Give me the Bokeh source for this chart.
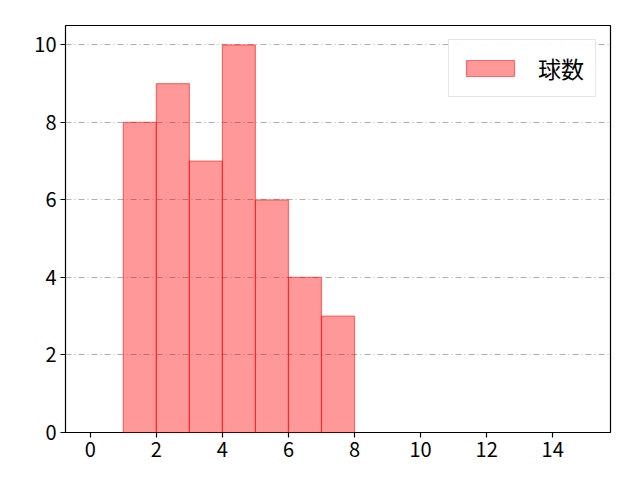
from bokeh.plotting import figure
from bokeh.models import ColumnDataSource, Range1d, FixedTicker, Legend, LegendItem
from bokeh.embed import file_html
from bokeh.resources import INLINE

# histogram bins (left edges) and counts
bin_left = [1, 2, 3, 4, 5, 6, 7]
bin_right = [2, 3, 4, 5, 6, 7, 8]
counts = [8, 9, 7, 10, 6, 4, 3]
x_ticks = [0, 2, 4, 6, 8, 10, 12, 14]
y_ticks = [0, 2, 4, 6, 8, 10]
label = "球数"

FONT = "Noto Sans CJK JP"

source = ColumnDataSource(dict(left=bin_left, right=bin_right,
                               top=counts, bottom=[0] * len(counts)))

p = figure(width=628, height=472, output_backend="svg", toolbar_location=None,
           x_range=Range1d(-0.75, 15.75), y_range=Range1d(0, 10.5),
           min_border_left=65, min_border_right=18, min_border_top=25,
           min_border_bottom=40)

r = p.quad(left="left", right="right", top="top", bottom="bottom", source=source,
           fill_color="red", fill_alpha=0.4, line_color="red", line_alpha=0.5,
           line_width=1.2)

p.outline_line_color = "black"
p.outline_line_alpha = 1
p.outline_line_width = 1.2

p.xgrid.visible = False
p.ygrid.grid_line_color = "#b0b0b0"
p.ygrid.grid_line_dash = "6 3 1 3"
p.ygrid.grid_line_width = 1

for ax, ticks in ((p.xaxis, x_ticks), (p.yaxis, y_ticks)):
    ax.ticker = FixedTicker(ticks=ticks)
    ax.major_label_text_font = FONT
    ax.major_label_text_font_size = "20px"
    ax.major_label_text_color = "black"
    ax.axis_line_color = None
    ax.major_tick_line_color = "black"
    ax.major_tick_line_width = 1.2
    ax.major_tick_out = 5
    ax.major_tick_in = 0
    ax.minor_tick_line_color = None
    ax.major_label_standoff = 4

legend = Legend(items=[LegendItem(label=label, renderers=[r])],
                location="top_right")
legend.label_text_font = FONT
legend.label_text_font_size = "23px"
legend.label_text_color = "black"
legend.glyph_width = 60
legend.glyph_height = 20
legend.label_standoff = 18
legend.border_line_color = "#cccccc"
legend.border_line_width = 1
legend.margin = 14
legend.padding = 11
legend.spacing = 0
p.add_layout(legend)

open("out.html", "w").write(file_html(p, INLINE))
